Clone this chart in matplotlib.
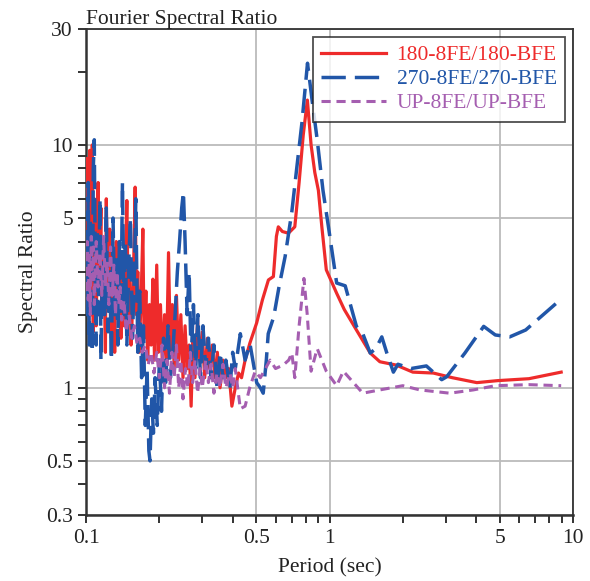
import numpy as np
import matplotlib
matplotlib.use("Agg")
import matplotlib.pyplot as plt
import matplotlib.ticker as ticker

plt.rcParams['font.family'] = ['Liberation Serif', 'DejaVu Serif']

RED = "#ee2b2b"
BLUE = "#2156a8"
PURPLE = "#a55eb0"

# 180-8FE/180-BFE
per_180 = [0.100, 0.101, 0.102, 0.1035, 0.105, 0.106, 0.107, 0.108, 0.109, 0.110, 0.112, 0.113, 0.115, 0.116,
           0.118, 0.120, 0.121, 0.123, 0.125, 0.127, 0.129, 0.131, 0.133, 0.135, 0.137, 0.139, 0.141, 0.143,
           0.145, 0.147, 0.149, 0.151, 0.153, 0.156, 0.159, 0.161, 0.163, 0.165, 0.168, 0.171, 0.173, 0.176,
           0.179, 0.182, 0.185, 0.188, 0.191, 0.195, 0.198, 0.202, 0.206, 0.210, 0.214, 0.218, 0.222, 0.226,
           0.230, 0.235, 0.240, 0.245, 0.250, 0.255, 0.260, 0.265, 0.270, 0.275, 0.280, 0.287, 0.293, 0.300,
           0.307, 0.315, 0.322, 0.330, 0.338, 0.346, 0.355, 0.365, 0.375, 0.385, 0.397, 0.410, 0.423, 0.435,
           0.450, 0.471, 0.502, 0.530, 0.561, 0.588, 0.605, 0.616, 0.640, 0.678, 0.720, 0.750, 0.780, 0.811,
           0.840, 0.870, 0.900, 0.930, 0.970, 1.07, 1.15, 1.29, 1.47, 1.61, 1.88, 2.2, 2.67, 3.2, 4.03, 4.9,
           6.6, 8.95]
rat_180 = [5.0, 8.8, 3.0, 9.5, 2.0, 10.0, 1.7, 6.0, 3.5, 1.8, 7.0, 2.5, 5.5, 2.0,
           4.0, 1.4, 6.0, 2.2, 4.5, 1.6, 3.5, 1.4, 4.0, 2.0, 3.0, 1.6, 2.8, 1.8,
           3.5, 5.9, 2.0, 3.0, 1.5, 2.5, 6.7, 2.0, 3.0, 1.4, 2.2, 4.5, 1.6, 2.5,
           1.3, 2.2, 1.5, 2.8, 1.3, 3.2, 1.4, 2.2, 1.2, 2.0, 1.3, 3.6, 1.4, 2.2,
           1.2, 2.4, 1.3, 2.0, 1.1, 1.8, 1.2, 1.5, 0.84, 1.6, 1.1, 1.9, 1.3, 1.7,
           1.1, 1.6, 1.2, 1.5, 1.1, 1.4, 1.0, 1.3, 1.1, 1.2, 0.84, 1.0, 1.15, 1.1,
           1.3, 1.53, 1.85, 2.3, 2.78, 2.87, 4.2, 4.6, 4.4, 4.33, 4.6, 7.0, 11.0, 15.3,
           10.0, 7.7, 6.5, 4.6, 3.06, 2.45, 2.1, 1.73, 1.39, 1.28, 1.24, 1.16, 1.15, 1.1, 1.05, 1.07,
           1.09, 1.16]

# 270-8FE/270-BFE
per_270 = [0.100, 0.101, 0.102, 0.103, 0.104, 0.105, 0.106, 0.107, 0.108, 0.109, 0.110, 0.111, 0.112, 0.114,
           0.115, 0.117, 0.119, 0.121, 0.123, 0.125, 0.127, 0.129, 0.131, 0.133, 0.135, 0.137, 0.139, 0.141,
           0.143, 0.145, 0.147, 0.150, 0.152, 0.155, 0.158, 0.160, 0.163, 0.166, 0.169, 0.172, 0.175, 0.178,
           0.181, 0.183, 0.186, 0.189, 0.192, 0.196, 0.200, 0.204, 0.208, 0.212, 0.217, 0.222, 0.227, 0.232,
           0.237, 0.242, 0.247, 0.251, 0.255, 0.260, 0.265, 0.270, 0.276, 0.282, 0.288, 0.295, 0.302, 0.310,
           0.318, 0.326, 0.335, 0.345, 0.355, 0.365, 0.375, 0.390, 0.400, 0.410, 0.430, 0.450, 0.471, 0.502,
           0.520, 0.534, 0.550, 0.560, 0.590, 0.620, 0.657, 0.700, 0.730, 0.770, 0.812, 0.850, 0.890, 0.940,
           0.990, 1.07, 1.16, 1.29, 1.37, 1.47, 1.55, 1.64, 1.72, 1.83, 1.91, 2.16, 2.5, 2.89, 3.03, 3.6,
           4.3, 4.8, 5.5, 6.4, 8.95]
rat_270 = [4.0, 2.0, 7.0, 1.5, 5.0, 2.5, 1.4, 8.0, 10.5, 3.0, 1.5, 4.5, 2.0, 6.0,
           1.3, 4.0, 2.0, 5.5, 1.7, 3.0, 1.3, 5.0, 2.0, 3.5, 1.5, 4.0, 2.0, 7.0,
           2.0, 4.0, 1.5, 3.5, 5.0, 1.6, 3.0, 6.0, 1.4, 2.5, 1.1, 1.8, 0.7, 1.2,
           0.55, 0.5, 0.9, 0.65, 1.1, 0.7, 1.3, 0.8, 1.6, 1.0, 1.8, 1.1, 1.4, 2.0,
           3.0, 4.0, 5.5, 6.4, 4.0, 2.0, 3.0, 1.3, 2.2, 1.2, 2.0, 1.1, 1.8, 1.2,
           1.6, 1.1, 1.5, 1.0, 1.4, 1.1, 1.3, 1.0, 1.4, 1.2, 1.67, 1.3, 1.52, 1.05,
           1.0, 0.95, 1.3, 1.67, 1.96, 2.6, 3.47, 5.3, 7.7, 12.3, 21.7, 15.0, 10.5, 6.5,
           4.6, 2.7, 2.63, 1.79, 1.67, 1.39, 1.45, 1.62, 1.39, 1.16, 1.25, 1.2, 1.23, 1.08, 1.11, 1.39,
           1.79, 1.65, 1.62, 1.73, 2.32]

# UP-8FE/UP-BFE
per_up = [0.100, 0.101, 0.102, 0.103, 0.104, 0.105, 0.106, 0.107, 0.108, 0.110, 0.112, 0.114, 0.116, 0.118,
          0.120, 0.122, 0.124, 0.126, 0.128, 0.130, 0.132, 0.134, 0.136, 0.138, 0.140, 0.143, 0.146, 0.150,
          0.154, 0.158, 0.162, 0.166, 0.170, 0.175, 0.180, 0.185, 0.190, 0.195, 0.200, 0.205, 0.210, 0.215,
          0.220, 0.225, 0.230, 0.235, 0.240, 0.245, 0.250, 0.256, 0.262, 0.268, 0.274, 0.280, 0.287, 0.294,
          0.300, 0.310, 0.318, 0.326, 0.335, 0.345, 0.355, 0.365, 0.375, 0.390, 0.400, 0.410, 0.430, 0.450,
          0.470, 0.495, 0.520, 0.570, 0.600, 0.645, 0.680, 0.700, 0.720, 0.750, 0.785, 0.810, 0.840, 0.890,
          0.970, 1.07, 1.14, 1.37, 1.61, 2.0, 2.35, 3.12, 3.9, 4.8, 6.6, 8.95]
rat_up = [2.5, 4.0, 2.3, 3.5, 2.0, 4.2, 2.8, 3.8, 2.2, 4.0, 2.6, 3.6, 2.4, 4.2,
          2.6, 3.3, 2.2, 3.8, 2.4, 3.2, 2.0, 3.0, 2.2, 2.6, 1.9, 2.3, 1.7, 2.0,
          1.6, 1.8, 1.5, 1.6, 1.4, 1.5, 1.25, 1.4, 1.15, 1.4, 1.1, 1.5, 1.0, 1.3,
          0.95, 1.4, 1.1, 1.5, 1.0, 1.3, 0.9, 1.2, 1.0, 1.4, 1.05, 1.3, 0.95, 1.2,
          1.0, 1.3, 1.05, 1.25, 0.95, 1.15, 1.0, 1.25, 1.0, 1.15, 1.0, 1.2, 0.82, 0.84,
          1.0, 1.17, 1.1, 1.3, 1.2, 1.24, 1.3, 1.39, 1.1, 1.8, 2.82, 2.0, 1.17, 1.45,
          1.17, 1.02, 1.17, 0.95, 0.98, 1.02, 0.98, 0.95, 0.98, 1.02, 1.03, 1.02]

fig = plt.figure(figsize=(5.9, 5.81), dpi=100)
ax = fig.add_axes([0.146, 0.114, 0.825, 0.836])

ax.plot(per_180, rat_180, color=RED, lw=2.3, label="180-8FE/180-BFE", zorder=3)
ax.plot(per_270, rat_270, color=BLUE, lw=2.5, dashes=(7, 2.6), label="270-8FE/270-BFE", zorder=4)
ax.plot(per_up, rat_up, color=PURPLE, lw=2.2, dashes=(3, 1.9), label="UP-8FE/UP-BFE", zorder=5)

ax.set_xscale("log")
ax.set_yscale("log")
ax.set_xlim(0.1, 10)
ax.set_ylim(0.3, 30)

ax.xaxis.set_major_locator(ticker.FixedLocator([0.1, 0.5, 1, 5, 10]))
ax.xaxis.set_minor_locator(ticker.FixedLocator([0.2, 0.3, 0.4, 0.6, 0.7, 0.8, 0.9, 2, 3, 4, 6, 7, 8, 9]))
ax.xaxis.set_major_formatter(ticker.FixedFormatter(["0.1", "0.5", "1", "5", "10"]))
ax.xaxis.set_minor_formatter(ticker.NullFormatter())
ax.yaxis.set_major_locator(ticker.FixedLocator([0.3, 0.5, 1, 5, 10, 30]))
ax.yaxis.set_minor_locator(ticker.FixedLocator([0.4, 0.6, 0.7, 0.8, 0.9, 2, 3, 4, 6, 7, 8, 9, 20]))
ax.yaxis.set_major_formatter(ticker.FixedFormatter(["0.3", "0.5", "1", "5", "10", "30"]))
ax.yaxis.set_minor_formatter(ticker.NullFormatter())

ax.tick_params(which="both", direction="out", length=6, width=1.4, color="#333333",
               labelsize=15.5, top=False, right=False, labelcolor="#222222")
ax.tick_params(axis="x", which="both", pad=4.5)
ax.tick_params(axis="y", which="both", pad=3.5)
ax.grid(which="major", color="#bbbbbb", lw=1.3)
ax.set_axisbelow(True)
for s in ax.spines.values():
    s.set_color("#333333")
    s.set_linewidth(1.3)
ax.spines["left"].set_linewidth(1.8)
ax.spines["bottom"].set_linewidth(1.8)

ax.set_xlabel("Period (sec)", fontsize=15.5, labelpad=7, color="#222222")
ax.set_ylabel("Spectral Ratio", fontsize=15.5, labelpad=6, color="#222222")
ax.set_title("Fourier Spectral Ratio", loc="left", fontsize=15.5, pad=2, color="#222222")

leg = ax.legend(loc="upper right", fontsize=15.5, frameon=True, fancybox=False, edgecolor="#222222",
                handlelength=3.0, borderaxespad=0.35, borderpad=0.4, labelspacing=0.18, handletextpad=0.5)
leg.get_frame().set_linewidth(1.3)
for txt, c in zip(leg.get_texts(), [RED, BLUE, PURPLE]):
    txt.set_color(c)

fig.savefig("out.png", dpi=100)
